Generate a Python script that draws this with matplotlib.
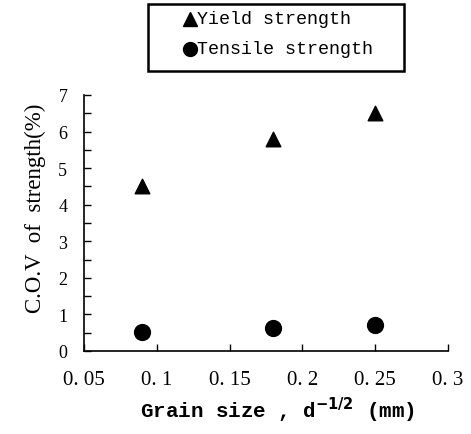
import matplotlib
matplotlib.use("Agg")
import matplotlib.pyplot as plt
from matplotlib.lines import Line2D
from matplotlib.patches import Rectangle

grain_size = [0.09, 0.18, 0.25]
yield_cov = [4.5, 5.8, 6.5]
tensile_cov = [0.53, 0.62, 0.72]
x_ticks = [0.05, 0.1, 0.15, 0.2, 0.25, 0.3]
x_tick_labels = ["0. 05", "0. 1", "0. 15", "0. 2", "0. 25", "0. 3"]
y_ticks = [0, 1, 2, 3, 4, 5, 6, 7]
legend_labels = ["Yield strength", "Tensile strength"]
legend_markers = ["^", "o"]

W, H = 471, 435
fig = plt.figure(figsize=(W / 100, H / 100), dpi=100)
ax = fig.add_axes([84 / W, 1 - 352 / H, 364 / W, 256 / H])

ax.scatter(grain_size, yield_cov, marker="^", s=110, color="black", zorder=3)
ax.scatter(grain_size, tensile_cov, marker="o", s=130, color="black", zorder=3)

ax.set_xlim(0.05, 0.3)
ax.set_ylim(0, 7)
ax.spines["top"].set_visible(False)
ax.spines["right"].set_visible(False)
ax.spines["left"].set_linewidth(1.2)
ax.spines["bottom"].set_linewidth(1.2)
ax.set_xticks(x_ticks)
ax.set_xticklabels(x_tick_labels, family="Liberation Serif", fontsize=15)
ax.set_yticks(y_ticks)
ax.set_yticklabels([str(v) for v in y_ticks], family="Liberation Serif", fontsize=13)
ax.set_yticks([v + 0.5 for v in y_ticks[:-1]], minor=True)
ax.tick_params(axis="both", which="both", direction="in", length=5, width=1)
ax.tick_params(axis="y", pad=12)
ax.tick_params(axis="x", pad=14)

ax.set_ylabel("C.O.V  of  strength(%)", family="Liberation Serif", fontsize=16.5)
ax.yaxis.set_label_coords((46 - 84) / 364, (352 - 208) / 256)
ax.set_xlabel(r"Grain size , d$^{\mathbf{-1/2}}$ (mm)", family="Liberation Mono",
              fontweight="bold", fontsize=15)
ax.xaxis.set_label_coords((277 - 84) / 364, -0.17)

# legend box drawn in figure pixels
box = Rectangle((148 / W, 1 - 72 / H), 256 / W, 67 / H, transform=fig.transFigure,
                fill=False, edgecolor="black", linewidth=1.8)
fig.add_artist(box)
for i, (lab, mk) in enumerate(zip(legend_labels, legend_markers)):
    yc = 1 - (20 + 30 * i) / H
    fig.add_artist(Line2D([190 / W], [yc], marker=mk, color="black", markersize=10,
                          linestyle="none", transform=fig.transFigure))
    fig.text(197 / W, yc, lab, family="Liberation Mono", fontsize=13.2,
             va="center", ha="left")

fig.savefig("out.png", dpi=100)
